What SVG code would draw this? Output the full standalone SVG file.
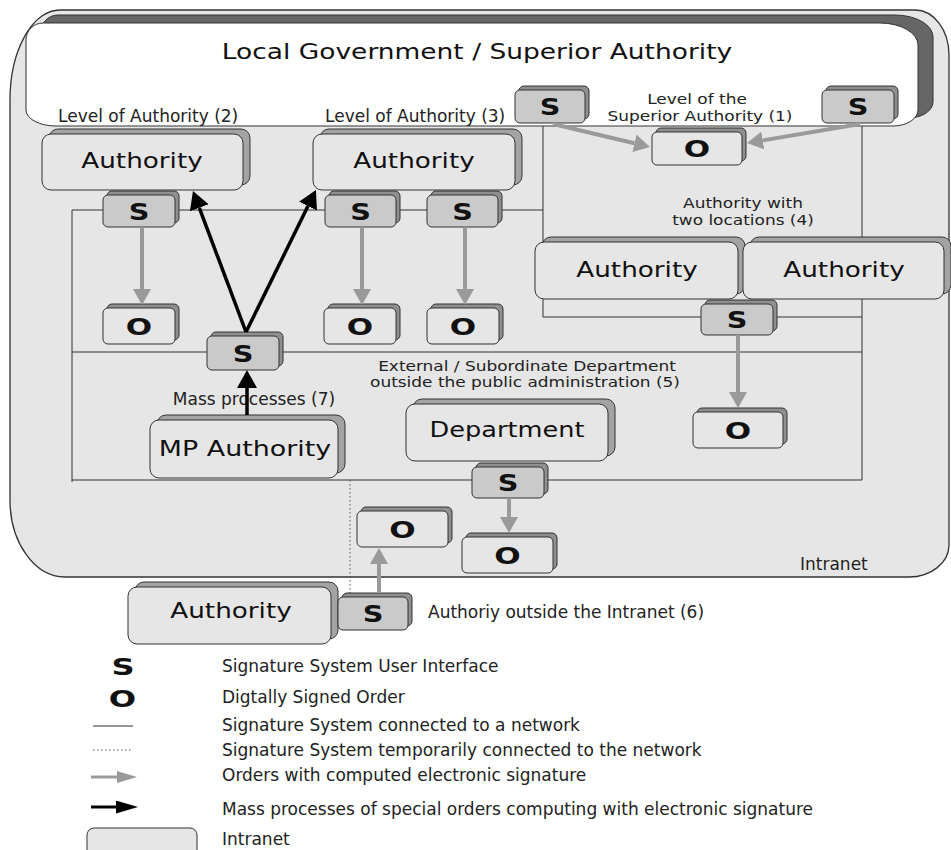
<svg xmlns="http://www.w3.org/2000/svg" width="951" height="850" viewBox="0 0 951 850">
<style>
.bg{fill:#e6e6e6;stroke:#333;stroke-width:1.3}
.shb{fill:#a3a3a3;stroke:#333;stroke-width:1}
.box{fill:#e6e6e6;stroke:#333;stroke-width:1}
.shs{fill:#8f8f8f;stroke:#333;stroke-width:1}
.sbox{fill:#cacaca;stroke:#333;stroke-width:1}
.obox{fill:#e6e6e6;stroke:#333;stroke-width:1}
.big{font-family:"DejaVu Sans",sans-serif;font-size:21px;fill:#111;text-anchor:middle}
.so{font-family:"DejaVu Sans",sans-serif;font-size:23px;font-weight:bold;fill:#111;text-anchor:middle}
.lbl{font-family:"DejaVu Sans",sans-serif;font-size:17px;fill:#222}
.lbl2{font-family:"DejaVu Sans",sans-serif;font-size:14.5px;fill:#222;text-anchor:middle}
.mid{text-anchor:middle}
.net{stroke:#333;stroke-width:1;fill:none}
.dot{stroke:#555;stroke-width:1;stroke-dasharray:1.5 2.5;fill:none}
.ga{stroke:#9a9a9a;stroke-width:4;fill:none;marker-end:url(#gh)}
.ba{stroke:#000;stroke-width:3.5;fill:none;marker-end:url(#bh)}
.gla{stroke:#9a9a9a;stroke-width:3;fill:none;marker-end:url(#glh)}
.bla{stroke:#000;stroke-width:3;fill:none;marker-end:url(#blh)}
</style>
<defs>
<marker id="gh" markerUnits="userSpaceOnUse" markerWidth="16" markerHeight="18" refX="0" refY="9" orient="auto"><path d="M0,0 L16,9 L0,18 z" fill="#9a9a9a"/></marker>
<marker id="bh" markerUnits="userSpaceOnUse" markerWidth="18" markerHeight="20" refX="0" refY="10" orient="auto"><path d="M0,0 L18,10 L0,20 z" fill="#000"/></marker>
<marker id="glh" markerUnits="userSpaceOnUse" markerWidth="20" markerHeight="12" refX="0" refY="6" orient="auto"><path d="M0,0 L20,6 L0,12 z" fill="#9a9a9a"/></marker>
<marker id="blh" markerUnits="userSpaceOnUse" markerWidth="22" markerHeight="13" refX="0" refY="6.5" orient="auto"><path d="M0,0 L22,6.5 L0,13 z" fill="#000"/></marker>
</defs>
<rect width="951" height="850" fill="#fff"/>

<g id="intranet">
<path class="bg" d="M60,10 L915,10 A34,45 0 0 1 949,55 L949,545 A40,32 0 0 1 909,577 L65,577 A55,77 0 0 1 10,500 L10,100 A50,90 0 0 1 60,10 Z"/>
<text class="lbl" x="800" y="570">Intranet</text>
</g>

<g id="local-government">
<path d="M58,15 L895,15 A38,22 0 0 1 933,37 L933,102 A25,16 0 0 1 908,118 L71,118 A30,16 0 0 1 41,102 L41,32 A17,17 0 0 1 58,15 Z" fill="#666" stroke="#333" stroke-width="1"/>
<path d="M43,23 L880,23 A38,22 0 0 1 918,45 L918,110 A25,16 0 0 1 893,126 L56,126 A30,16 0 0 1 26,110 L26,40 A17,17 0 0 1 43,23 Z" fill="#fff" stroke="#333" stroke-width="1"/>
<text class="big" font-size="20" transform="translate(477,59) scale(1.26,1)">Local Government / Superior Authority</text>
</g>

<g id="network">
<path class="net" d="M72,482 L72,210 L543,210"/>
<path class="net" d="M72,352 L862,352"/>
<path class="net" d="M72,480 L862,480"/>
<path class="net" d="M543,126 L543,317 L862,317"/>
<path class="net" d="M862,126 L862,480"/>
<path class="dot" d="M350,480 L350,598"/>
</g>

<g id="labels">
<text class="lbl" x="58" y="122">Level of Authority (2)</text>
<text class="lbl" x="325" y="122">Level of Authority (3)</text>
<text class="lbl2" transform="translate(697,104) scale(1.17,1)">Level of the</text>
<text class="lbl2" transform="translate(700,121) scale(1.17,1)">Superior Authority (1)</text>
<text class="lbl2" transform="translate(743,208) scale(1.17,1)">Authority with</text>
<text class="lbl2" transform="translate(743,225) scale(1.17,1)">two locations (4)</text>
<text class="lbl2" transform="translate(527,371) scale(1.17,1)">External / Subordinate Department</text>
<text class="lbl2" transform="translate(525,387) scale(1.17,1)">outside the public administration (5)</text>
<text class="lbl mid" x="254" y="405">Mass processes (7)</text>
<text class="lbl" x="428" y="618">Authoriy outside the Intranet (6)</text>
</g>

<g id="auth2"><rect class="shb" x="49" y="129" width="201" height="56" rx="9"/><rect class="box" x="42" y="134" width="201" height="56" rx="9"/><text class="big" transform="translate(142,168) scale(1.25,1)">Authority</text></g>
<g id="auth3"><rect class="shb" x="320" y="129" width="202" height="56" rx="9"/><rect class="box" x="313" y="134" width="202" height="56" rx="9"/><text class="big" transform="translate(414,168) scale(1.25,1)">Authority</text></g>
<g id="auth4a"><rect class="shb" x="542" y="237" width="203" height="57" rx="9"/><rect class="box" x="535" y="242" width="203" height="57" rx="9"/><text class="big" transform="translate(637,277) scale(1.25,1)">Authority</text></g>
<g id="auth4b"><rect class="shb" x="750" y="237" width="201" height="57" rx="9"/><rect class="box" x="743" y="242" width="201" height="57" rx="9"/><text class="big" transform="translate(844,277) scale(1.25,1)">Authority</text></g>
<g id="mp-authority"><rect class="shb" x="157" y="415" width="188" height="58" rx="9"/><rect class="box" x="150" y="420" width="188" height="58" rx="9"/><text class="big" transform="translate(245,456) scale(1.28,1)">MP Authority</text></g>
<g id="department"><rect class="shb" x="413" y="399" width="202" height="57" rx="9"/><rect class="box" x="406" y="404" width="202" height="57" rx="9"/><text class="big" transform="translate(507,437) scale(1.22,1)">Department</text></g>
<g id="auth-outside"><rect class="shb" x="135" y="582" width="203" height="57" rx="9"/><rect class="box" x="128" y="587" width="203" height="57" rx="9"/><text class="big" transform="translate(231,618) scale(1.25,1)">Authority</text></g>

<g id="s-top1"><rect class="shs" x="519" y="86" width="70" height="33" rx="5"/><rect class="sbox" x="515" y="90" width="70" height="33" rx="5"/><text class="so" transform="translate(550,115) scale(1.25,1)">S</text></g>
<g id="s-top2"><rect class="shs" x="826" y="86" width="72" height="33" rx="5"/><rect class="sbox" x="822" y="90" width="72" height="33" rx="5"/><text class="so" transform="translate(858,115) scale(1.25,1)">S</text></g>
<g id="s-a2"><rect class="shs" x="107" y="191" width="72" height="32" rx="5"/><rect class="sbox" x="103" y="195" width="72" height="32" rx="5"/><text class="so" transform="translate(139,219.5) scale(1.25,1)">S</text></g>
<g id="s-a3a"><rect class="shs" x="329" y="191" width="71" height="32" rx="5"/><rect class="sbox" x="325" y="195" width="71" height="32" rx="5"/><text class="so" transform="translate(360.5,219.5) scale(1.25,1)">S</text></g>
<g id="s-a3b"><rect class="shs" x="431" y="191" width="71" height="32" rx="5"/><rect class="sbox" x="427" y="195" width="71" height="32" rx="5"/><text class="so" transform="translate(462.5,219.5) scale(1.25,1)">S</text></g>
<g id="s-mid"><rect class="shs" x="211" y="332" width="72" height="34" rx="5"/><rect class="sbox" x="207" y="336" width="72" height="34" rx="5"/><text class="so" transform="translate(243,361.5) scale(1.25,1)">S</text></g>
<g id="s-4"><rect class="shs" x="705" y="300" width="72" height="31" rx="5"/><rect class="sbox" x="701" y="304" width="72" height="31" rx="5"/><text class="so" transform="translate(737,328) scale(1.25,1)">S</text></g>
<g id="s-dept"><rect class="shs" x="476" y="463" width="72" height="31" rx="5"/><rect class="sbox" x="472" y="467" width="72" height="31" rx="5"/><text class="so" transform="translate(508,491) scale(1.25,1)">S</text></g>
<g id="s-out"><rect class="shs" x="342" y="593" width="70" height="33" rx="5"/><rect class="sbox" x="338" y="597" width="70" height="33" rx="5"/><text class="so" transform="translate(373,622) scale(1.25,1)">S</text></g>

<g id="o-top"><rect class="shs" x="656" y="128" width="90" height="33" rx="5"/><rect class="obox" x="652" y="132" width="90" height="33" rx="5"/><text class="so" transform="translate(697,157) scale(1.35,1)">O</text></g>
<g id="o-a2"><rect class="shs" x="107" y="304" width="72" height="36" rx="5"/><rect class="obox" x="103" y="308" width="72" height="36" rx="5"/><text class="so" transform="translate(139,334.5) scale(1.35,1)">O</text></g>
<g id="o-a3a"><rect class="shs" x="328" y="304" width="72" height="36" rx="5"/><rect class="obox" x="324" y="308" width="72" height="36" rx="5"/><text class="so" transform="translate(360,334.5) scale(1.35,1)">O</text></g>
<g id="o-a3b"><rect class="shs" x="431" y="304" width="72" height="36" rx="5"/><rect class="obox" x="427" y="308" width="72" height="36" rx="5"/><text class="so" transform="translate(463,334.5) scale(1.35,1)">O</text></g>
<g id="o-4"><rect class="shs" x="697" y="408" width="90" height="36" rx="5"/><rect class="obox" x="693" y="412" width="90" height="36" rx="5"/><text class="so" transform="translate(738,438.5) scale(1.35,1)">O</text></g>
<g id="o-mid"><rect class="shs" x="361" y="507" width="91" height="36" rx="5"/><rect class="obox" x="357" y="511" width="91" height="36" rx="5"/><text class="so" transform="translate(402.5,537.5) scale(1.35,1)">O</text></g>
<g id="o-dept"><rect class="shs" x="466" y="533" width="91" height="36" rx="5"/><rect class="obox" x="462" y="537" width="91" height="36" rx="5"/><text class="so" transform="translate(507.5,563.5) scale(1.35,1)">O</text></g>

<g id="connectors">
<path class="ga" d="M553,124 L634.4,143.3"/>
<path class="ga" d="M860,124 L762.8,140.4"/>
<path class="ga" d="M142,227 L142,289"/>
<path class="ga" d="M362,227 L362,289"/>
<path class="ga" d="M465,227 L465,289"/>
<path class="ga" d="M738,335 L738,392"/>
<path class="ga" d="M509,498 L509,517"/>
<path class="ga" d="M379,593 L379,564"/>
<path class="ba" d="M246,332 L199.3,207.8"/>
<path class="ba" d="M246,332 L308,206.1"/>
<path class="ba" d="M247,415 L247,388"/>
</g>

<g id="legend">
<text class="so" font-size="21" transform="translate(123,675) scale(1.4,1)">S</text>
<text class="so" font-size="22" transform="translate(122.5,707) scale(1.4,1)">O</text>
<path class="net" d="M93,726 L133,726"/>
<path class="dot" d="M93,750 L133,750"/>
<path class="gla" d="M91,777 L117,777"/>
<path class="bla" d="M91,807 L116,807"/>
<rect class="box" x="87" y="828" width="110" height="32" rx="7"/>
<text class="lbl" x="222" y="672">Signature System User Interface</text>
<text class="lbl" x="222" y="703">Digtally Signed Order</text>
<text class="lbl" x="222" y="731">Signature System connected to a network</text>
<text class="lbl" x="222" y="756">Signature System temporarily connected to the network</text>
<text class="lbl" x="222" y="781">Orders with computed electronic signature</text>
<text class="lbl" x="222" y="815">Mass processes of special orders computing with electronic signature</text>
<text class="lbl" x="222" y="845">Intranet</text>
</g>
</svg>
